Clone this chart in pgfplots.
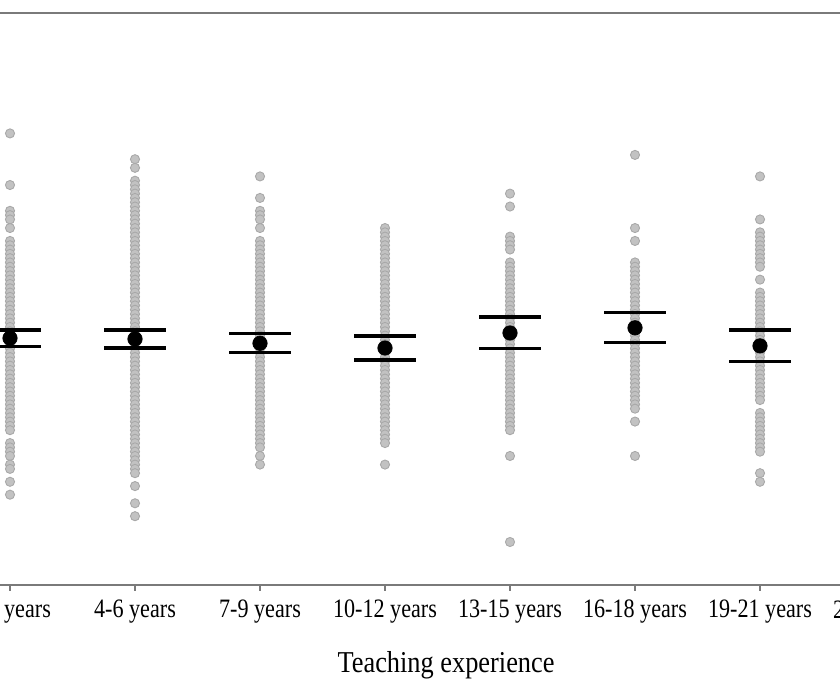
\documentclass[border=0pt]{standalone}
\usepackage{pgfplots}
\pgfplotsset{compat=1.18}
\usepackage{fontspec}
\setmainfont{Liberation Serif}
\definecolor{dotfill}{HTML}{C2C2C2}
\definecolor{dotedge}{HTML}{A8A8A8}
\definecolor{framegray}{HTML}{7A7A7A}

\begin{document}
\begin{tikzpicture}
\useasboundingbox (0,0) rectangle (16.8,13.8);
\clip (0,0) rectangle (16.8,13.8);
\begin{axis}[
  at={(0,2.1cm)}, anchor=south west,
  scale only axis, width=16.8cm, height=11.44cm,
  xmin=0.92, xmax=7.64, ymin=0, ymax=133,
  xtick={1,...,7},
  xticklabels={1-3 years, 4-6 years, 7-9 years, 10-12 years, 13-15 years, 16-18 years, 19-21 years},
  ytick=\empty,
  separate axis lines,
  x axis line style={framegray, line width=1.3pt},
  y axis line style={draw=none},
  xtick pos=left,
  tick align=outside,
  major tick length=0.12cm,
  tick style={framegray, line width=0.8pt},
  xticklabel style={font=\fontsize{12.6}{15}\selectfont, yscale=1.2, transform shape, yshift=-0.5pt},
  xlabel={Teaching experience},
  xlabel style={at={(axis description cs:0.531,0)}, anchor=center, yshift=-1.6cm, font=\fontsize{15}{18}\selectfont, yscale=1.15, transform shape},
  clip=false,
  unbounded coords=jump,
]
% individual scores
\addplot[only marks, mark=*, mark size=2.6pt, mark options={fill=dotfill, draw=dotedge, line width=0.5pt}] coordinates {
 (1,105) (1,93) (1,87) (1,86) (1,85) (1,83) (1,80) (1,79) (1,78) (1,77) (1,76) (1,75) (1,74) (1,73) (1,72) (1,71)
 (1,70) (1,69) (1,68) (1,67) (1,66) (1,65) (1,64) (1,63) (1,62) (1,61) (1,60) (1,59) (1,58) (1,57) (1,56) (1,55)
 (1,54) (1,53) (1,52) (1,51) (1,50) (1,49) (1,48) (1,47) (1,46) (1,45) (1,44) (1,43) (1,42) (1,41) (1,40) (1,39)
 (1,38) (1,37) (1,36) (1,33) (1,32) (1,31) (1,30) (1,28) (1,27) (1,24) (1,21)
 (2,99) (2,97) (2,94) (2,93) (2,92) (2,91) (2,90) (2,89) (2,88) (2,87) (2,86) (2,85) (2,84) (2,83) (2,82) (2,81)
 (2,80) (2,79) (2,78) (2,77) (2,76) (2,75) (2,74) (2,73) (2,72) (2,71) (2,70) (2,69) (2,68) (2,67) (2,66) (2,65)
 (2,64) (2,63) (2,62) (2,61) (2,60) (2,59) (2,58) (2,57) (2,56) (2,55) (2,54) (2,53) (2,52) (2,51) (2,50) (2,49)
 (2,48) (2,47) (2,46) (2,45) (2,44) (2,43) (2,42) (2,41) (2,40) (2,39) (2,38) (2,37) (2,36) (2,35) (2,34) (2,33)
 (2,32) (2,31) (2,30) (2,29) (2,28) (2,27) (2,26) (2,23) (2,19) (2,16)
 (3,95) (3,90) (3,87) (3,86) (3,85) (3,83) (3,80) (3,79) (3,78) (3,77) (3,76) (3,75) (3,74) (3,73) (3,72) (3,71)
 (3,70) (3,69) (3,68) (3,67) (3,66) (3,65) (3,64) (3,63) (3,62) (3,61) (3,60) (3,59) (3,58) (3,57) (3,56) (3,55)
 (3,54) (3,53) (3,52) (3,51) (3,50) (3,49) (3,48) (3,47) (3,46) (3,45) (3,44) (3,43) (3,42) (3,41) (3,40) (3,39)
 (3,38) (3,37) (3,36) (3,35) (3,34) (3,33) (3,32) (3,30) (3,28)
 (4,83) (4,82) (4,81) (4,80) (4,79) (4,78) (4,77) (4,76) (4,75) (4,74) (4,73) (4,72) (4,71) (4,70) (4,69) (4,68)
 (4,67) (4,66) (4,65) (4,64) (4,63) (4,62) (4,61) (4,60) (4,59) (4,58) (4,57) (4,56) (4,55) (4,54) (4,53) (4,52)
 (4,51) (4,50) (4,49) (4,48) (4,47) (4,46) (4,45) (4,44) (4,43) (4,42) (4,41) (4,40) (4,39) (4,38) (4,37) (4,36)
 (4,35) (4,34) (4,33) (4,28)
 (5,91) (5,88) (5,81) (5,80) (5,79) (5,78) (5,75) (5,74) (5,73) (5,72) (5,71) (5,70) (5,69) (5,68) (5,67) (5,66)
 (5,65) (5,64) (5,63) (5,62) (5,61) (5,60) (5,59) (5,58) (5,57) (5,56) (5,55) (5,54) (5,53) (5,52) (5,51) (5,50)
 (5,49) (5,48) (5,47) (5,46) (5,45) (5,44) (5,43) (5,42) (5,41) (5,40) (5,39) (5,38) (5,37) (5,36) (5,30) (5,10)
 (6,100) (6,83) (6,80) (6,75) (6,74) (6,73) (6,72) (6,71) (6,70) (6,69) (6,68) (6,67) (6,66) (6,65) (6,64) (6,63)
 (6,62) (6,61) (6,60) (6,59) (6,58) (6,57) (6,56) (6,55) (6,54) (6,53) (6,52) (6,51) (6,50) (6,49) (6,48) (6,47)
 (6,46) (6,45) (6,44) (6,43) (6,42) (6,41) (6,38) (6,30)
 (7,95) (7,85) (7,82) (7,81) (7,80) (7,79) (7,78) (7,77) (7,76) (7,75) (7,74) (7,71) (7,68) (7,67) (7,66) (7,65)
 (7,64) (7,63) (7,62) (7,61) (7,60) (7,59) (7,58) (7,57) (7,56) (7,55) (7,54) (7,53) (7,52) (7,51) (7,50) (7,49)
 (7,48) (7,47) (7,46) (7,45) (7,44) (7,43) (7,40) (7,39) (7,38) (7,37) (7,36) (7,35) (7,34) (7,33) (7,32) (7,31)
 (7,26) (7,24)
};
% confidence intervals: stems (lower, upper) and caps
\addplot[black, line width=1.1pt, mark=none] coordinates {
 (1,55.5) (1,59.3) (1,nan)
 (2,55.1) (2,59.3) (2,nan)
 (3,54.0) (3,58.4) (3,nan)
 (4,52.3) (4,57.9) (4,nan)
 (5,54.9) (5,62.3) (5,nan)
 (6,56.3) (6,63.3) (6,nan)
 (7,51.9) (7,59.3)
};
\addplot[only marks, mark=-, mark size=17.6pt, mark options={black, line width=1.8pt}] coordinates {
 (1,55.5) (1,59.3)
 (2,55.1) (2,59.3)
 (3,54.0) (3,58.4)
 (4,52.3) (4,57.9)
 (5,54.9) (5,62.3)
 (6,56.3) (6,63.3)
 (7,51.9) (7,59.3)
};
% group means
\addplot[only marks, mark=*, mark size=4.1pt, black] coordinates {
 (1,57.4) (2,57.2) (3,56.2) (4,55.1) (5,58.6) (6,59.8) (7,55.6)
};
\node[anchor=north, font=\fontsize{12.6}{15}\selectfont, inner sep=0.333em, yscale=1.2, transform shape, yshift=-0.12cm-0.5pt] at (axis cs:8,0) {22-24 years};
\end{axis}
\end{tikzpicture}
\end{document}
